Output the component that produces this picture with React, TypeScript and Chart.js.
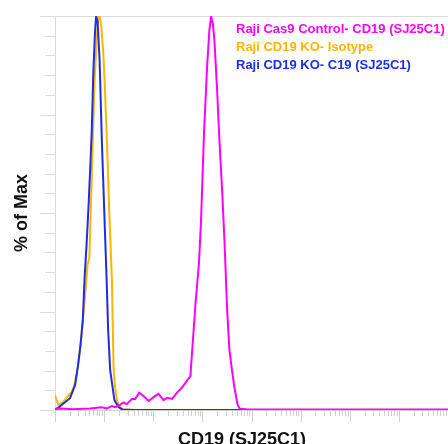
import React, { useEffect, useRef } from "react";
import { Chart, registerables } from "chart.js";

Chart.register(...registerables);

const seriesLabels = [
  "Raji Cas9 Control- CD19 (SJ25C1)",
  "Raji CD19 KO- Isotype",
  "Raji CD19 KO- C19 (SJ25C1)",
];
const seriesColors = ["#ff00ff", "#ffb400", "#1e2de6"];

const controlX = [1, 1.27, 2.33, 5.18, 8.98, 11.4, 14.4, 16.8, 21.2, 24.8, 29.1, 36.8, 42.9, 51.8, 62.5, 80.9, 100, 128, 162, 193, 241, 305, 385, 494, 569, 617, 664, 720, 791, 856, 940, 1080, 1247, 1390, 1505, 1638, 1758, 1995, 2223, 2523, 2812, 3193, 3556, 4000, 4499, 5179, 5690, 8170, 1e8];
const controlY = [0.25, 0.4, 0.2, 0.4, 0.7, 0.4, 1.0, 0.7, 1.3, 1.9, 1.5, 2.8, 2.8, 4.4, 3.6, 2.3, 3.2, 4.1, 2.5, 3.1, 2.8, 4.4, 5.7, 7.6, 8.5, 14.7, 20.3, 26.6, 32.5, 37.6, 48.2, 70.3, 87.1, 96.4, 100, 98, 93.9, 81.2, 68.5, 55.8, 43.1, 25.4, 15.2, 10.2, 5.6, 1.5, 0.4, 0.1, 0.1];

const isotypeX = [1, 1.17, 1.46, 1.76, 2.22, 2.56, 2.95, 3.39, 3.73, 4.19, 4.61, 5.01, 5.43, 5.88, 6.4, 7.03, 7.54, 8.02, 8.69, 9.54, 10.2, 11.4, 12.7, 14.4, 15.05, 15.6, 16.8, 18.2, 20.5, 24.4, 40, 1e8];
const isotypeY = [3.8, 1.3, 2.0, 3.3, 4.6, 6.9, 11.4, 17.8, 23.4, 30.5, 36.8, 38.8, 53.3, 68.5, 83.8, 93.9, 99, 100, 97.7, 91.4, 83.8, 68.5, 50.8, 33, 20.3, 10.2, 5.6, 2.5, 0.8, 0.1, 0, 0];

const koX = [1, 1.15, 1.46, 2.02, 2.56, 2.95, 3.31, 3.68, 4.0, 4.39, 4.83, 5.3, 5.61, 6.05, 6.55, 6.87, 7.37, 8.09, 8.98, 10.2, 11.25, 12.07, 13.26, 16.2, 19.5, 23.3, 40, 1e8];
const koY = [0.2, 0.5, 1.6, 3.0, 6.3, 11.4, 16.5, 22.8, 33.5, 41.9, 52, 63.5, 71.1, 86.3, 96.4, 100, 98.5, 88.8, 68.5, 48.2, 33, 20.3, 10.2, 2.5, 0.8, 0.1, 0, 0];

const xMin = 1;
const xMax = 1e8;
const xTitle = "CD19 (SJ25C1)";
const yTitle = "% of Max";

const FONT = "'Liberation Sans', Arial, sans-serif";

const pts = (xs: number[], ys: number[]) => xs.map((x, i) => ({ x, y: ys[i] }));

const decorPlugin = {
  id: "decor",
  beforeDatasetsDraw(chart: any) {
    const { ctx, chartArea, scales } = chart;
    const xs = scales.x;
    const ys = scales.y;
    ctx.save();
    ctx.lineWidth = 1;
    // y axis line
    ctx.strokeStyle = "#dcdcdc";
    ctx.beginPath();
    ctx.moveTo(chartArea.left + 0.5, chartArea.top);
    ctx.lineTo(chartArea.left + 0.5, chartArea.bottom);
    ctx.stroke();
    // y ticks
    for (let v = 0; v <= 100; v += 5) {
      const y = Math.round(ys.getPixelForValue(v)) + 0.5;
      const major = v % 25 === 0;
      ctx.beginPath();
      ctx.moveTo(chartArea.left - (major ? 15 : 10), y);
      ctx.lineTo(chartArea.left, y);
      ctx.stroke();
    }
    // top border
    ctx.beginPath();
    ctx.moveTo(chartArea.left - 12, chartArea.top + 0.5);
    ctx.lineTo(chartArea.right, chartArea.top + 0.5);
    ctx.stroke();
    // x baseline
    ctx.strokeStyle = "#cfcfcf";
    ctx.beginPath();
    ctx.moveTo(chartArea.left, chartArea.bottom + 0.5);
    ctx.lineTo(chartArea.right, chartArea.bottom + 0.5);
    ctx.stroke();
    // x ticks (log)
    for (let d = 0; d <= 8; d++) {
      for (let m = 1; m <= 9; m++) {
        const v = m * Math.pow(10, d);
        if (v > xMax) break;
        const x = Math.round(xs.getPixelForValue(v)) + 0.5;
        if (x > chartArea.right) continue;
        ctx.beginPath();
        ctx.moveTo(x, chartArea.bottom);
        ctx.lineTo(x, chartArea.bottom + (m === 1 ? 12 : 6));
        ctx.stroke();
      }
    }
    ctx.restore();
  },
  afterDraw(chart: any) {
    const { ctx } = chart;
    ctx.save();
    ctx.font = `bold 13px ${FONT}`;
    ctx.textAlign = "left";
    ctx.textBaseline = "alphabetic";
    chart.data.datasets.forEach((ds: any, i: number) => {
      ctx.fillStyle = ds.borderColor;
      ctx.fillText(ds.label, 236, 32.5 + i * 18);
    });
    ctx.font = `bold 18px ${FONT}`;
    ctx.fillStyle = "#111";
    ctx.textAlign = "center";
    ctx.fillText(xTitle, 242, 445);
    ctx.restore();
  },
};

export default function App() {
  const ref = useRef<HTMLCanvasElement | null>(null);
  useEffect(() => {
    if (!ref.current) return;
    const chart = new Chart(ref.current, {
      type: "line",
      data: {
        datasets: [
          { label: seriesLabels[0], data: pts(controlX, controlY), borderColor: seriesColors[0], order: 0 },
          { label: seriesLabels[1], data: pts(isotypeX, isotypeY), borderColor: seriesColors[1], order: 2 },
          { label: seriesLabels[2], data: pts(koX, koY), borderColor: seriesColors[2], order: 1 },
        ].map((d) => ({ ...d, borderWidth: 2, pointRadius: 0, tension: 0, fill: false })),
      },
      options: {
        animation: false,
        responsive: false,
        layout: { padding: { top: 16, left: 0, right: 0, bottom: 0 } },
        plugins: { legend: { display: false }, tooltip: { enabled: false } },
        scales: {
          x: {
            type: "logarithmic",
            min: xMin,
            max: xMax,
            grid: { display: false },
            border: { display: false },
            ticks: { display: false },
            afterFit: (s: any) => { s.height = 34; },
          },
          y: {
            min: 0,
            max: 100,
            grid: { display: false },
            border: { display: false },
            ticks: { display: false },
            title: {
              display: true,
              text: yTitle,
              color: "#111",
              font: { family: FONT, size: 18, weight: "bold" },
              padding: { top: 11, bottom: 0 },
            },
            afterFit: (s: any) => { s.width = 55; },
          },
        },
      },
      plugins: [decorPlugin],
    });
    return () => chart.destroy();
  }, []);
  return (
    <div style={{ position: "absolute", left: 0, top: 0 }}>
      <canvas ref={ref} width={448} height={444} style={{ display: "block" }} />
    </div>
  );
}
